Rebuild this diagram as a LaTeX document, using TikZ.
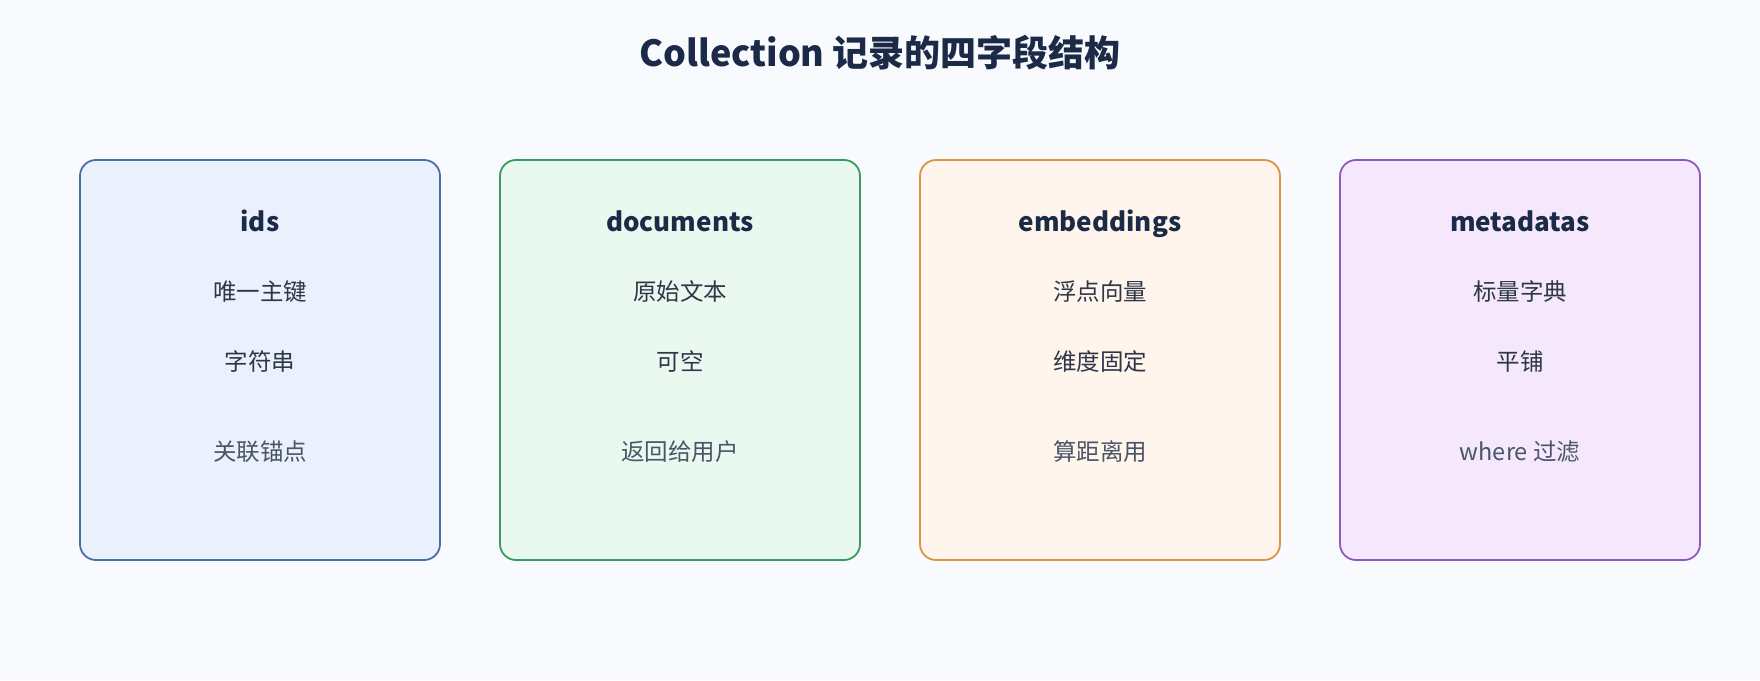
\documentclass[tikz,border=0pt]{standalone}
\usepackage{fontspec}
\setmainfont{Noto Sans CJK SC}
\definecolor{bg}{HTML}{F8FAFD}
\definecolor{titlec}{HTML}{1B2A47}
\definecolor{textc}{HTML}{2D3748}
\definecolor{mutec}{HTML}{4A5568}
\definecolor{fA}{HTML}{EAF1FC}\definecolor{sA}{HTML}{4A6FA8}
\definecolor{fB}{HTML}{EAF9EF}\definecolor{sB}{HTML}{3A9A60}
\definecolor{fC}{HTML}{FFF5EC}\definecolor{sC}{HTML}{DD9444}
\definecolor{fD}{HTML}{F5E8FD}\definecolor{sD}{HTML}{8D5BBE}
\tikzset{
  card/.style={draw=#1, line width=1.8pt, rounded corners=16pt},
  head/.style={anchor=base, text=titlec, font=\fontsize{26}{30}\selectfont\bfseries, inner sep=0pt},
  item/.style={anchor=base, text=textc, font=\fontsize{23.5}{27}\selectfont, inner sep=0pt},
  note/.style={anchor=base, text=mutec, font=\fontsize{23.5}{27}\selectfont, inner sep=0pt},
}
\begin{document}
\begin{tikzpicture}[x=1pt,y=-1pt]
\fill[bg] (0,0) rectangle (1760,680);
\useasboundingbox (0,0) rectangle (1760,680);
\node[anchor=base, text=titlec, font=\fontsize{36}{40}\selectfont\bfseries, inner sep=0pt] (title) at (880,66) {Collection 记录的四字段结构};
% cards
\node[card=sA, fill=fA, minimum width=360pt, minimum height=400pt, inner sep=0pt] (c1) at (260,360) {};
\node[card=sB, fill=fB, minimum width=360pt, minimum height=400pt, inner sep=0pt] (c2) at (680,360) {};
\node[card=sC, fill=fC, minimum width=360pt, minimum height=400pt, inner sep=0pt] (c3) at (1100,360) {};
\node[card=sD, fill=fD, minimum width=360pt, minimum height=400pt, inner sep=0pt] (c4) at (1520,360) {};
% card 1
\node[head] (h1) at (260,231) {ids};
\node[item] (a1) at (260,300) {唯一主键};
\node[item] (b1) at (260,370) {字符串};
\node[note] (n1) at (260,460) {关联锚点};
% card 2
\node[head] (h2) at (680,231) {documents};
\node[item] (a2) at (680,300) {原始文本};
\node[item] (b2) at (680,370) {可空};
\node[note] (n2) at (680,460) {返回给用户};
% card 3
\node[head] (h3) at (1100,231) {embeddings};
\node[item] (a3) at (1100,300) {浮点向量};
\node[item] (b3) at (1100,370) {维度固定};
\node[note] (n3) at (1100,460) {算距离用};
% card 4
\node[head] (h4) at (1520,231) {metadatas};
\node[item] (a4) at (1520,300) {标量字典};
\node[item] (b4) at (1520,370) {平铺};
\node[note] (n4) at (1520,460) {where 过滤};
\end{tikzpicture}
\end{document}
